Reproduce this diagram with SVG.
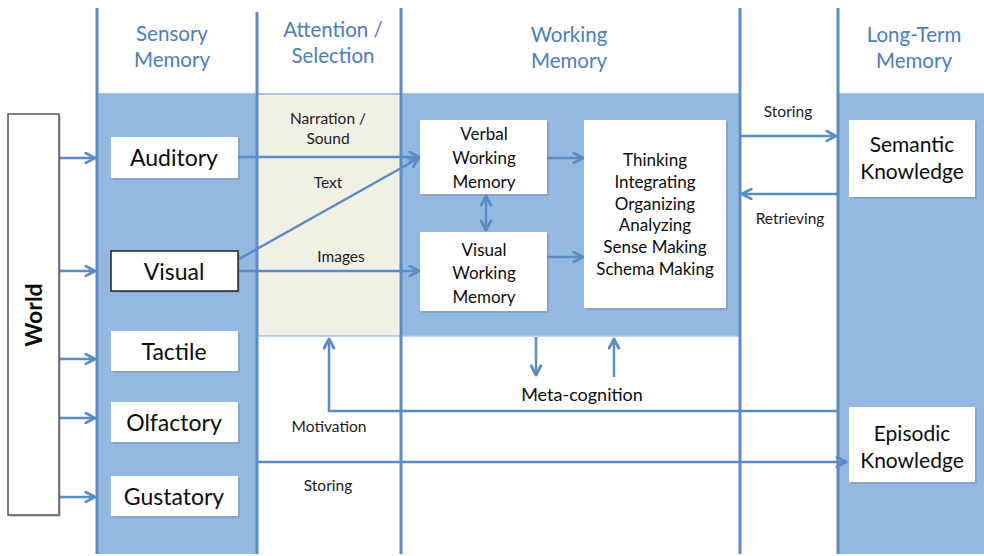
<svg xmlns="http://www.w3.org/2000/svg" width="984" height="556" viewBox="0 0 984 556">
  <style>
    .head { font-family: Lato, "Open Sans", sans-serif; font-size: 20.5px; fill: #4a7ebb; text-anchor: middle; }
    .lbl { font-family: Lato, "Open Sans", sans-serif; font-size: 15.5px; fill: #1c1c1c; text-anchor: middle; }
    .big { font-family: Lato, "Open Sans", sans-serif; font-size: 23px; fill: #0d0d0d; text-anchor: middle; }
    .ltm { font-family: Lato, "Open Sans", sans-serif; font-size: 21px; fill: #0d0d0d; text-anchor: middle; }
    .mid { font-family: Lato, "Open Sans", sans-serif; font-size: 17px; fill: #0d0d0d; text-anchor: middle; }
    .meta { font-family: Lato, "Open Sans", sans-serif; font-size: 18px; fill: #0d0d0d; text-anchor: middle; }
    .small { font-family: Lato, "Open Sans", sans-serif; font-size: 17px; fill: #0d0d0d; text-anchor: middle; }
    .world { font-family: Lato, "Open Sans", sans-serif; font-size: 23px; font-weight: bold; fill: #0d0d0d; text-anchor: middle; }
    .box { fill: #ffffff; }
    .shadow { fill: #6b7f96; opacity: 0.35; }
    .col { stroke: #5a8cc7; stroke-width: 3; fill: none; }
    .conn { stroke: #5a8cc7; stroke-width: 2.5; fill: none; }
  </style>
  <defs>
    <!-- open chevron arrowhead shared by all connectors -->
    <marker id="arr" viewBox="0 0 12 12" refX="10.5" refY="6" markerWidth="13" markerHeight="13" markerUnits="userSpaceOnUse" orient="auto-start-reverse">
      <path d="M2,1.5 L10.5,6 L2,10.5" fill="none" stroke="#5a8cc7" stroke-width="2.6" stroke-linecap="round" stroke-linejoin="round"/>
    </marker>
  </defs>

  <!-- background -->
  <rect x="0" y="0" width="984" height="556" fill="#ffffff"/>

  <!-- column fills -->
  <g id="columns">
    <rect x="97" y="94" width="160" height="460" fill="#94b9e1"/>
    <rect x="257" y="94" width="144" height="242" fill="#f1f0e4"/>
    <rect x="401" y="94" width="339" height="242" fill="#94b9e1"/>
    <rect x="838" y="94" width="146" height="460" fill="#94b9e1"/>
    <line x1="97" y1="94" x2="740" y2="94" stroke="#8fb3dc" stroke-width="1.5"/>
    <line x1="838" y1="94" x2="984" y2="94" stroke="#8fb3dc" stroke-width="1.5"/>
    <line x1="257" y1="336" x2="740" y2="336" stroke="#a9c5e6" stroke-width="1.5"/>
    <line class="col" x1="97" y1="8" x2="97" y2="554"/>
    <line class="col" x1="257" y1="12" x2="257" y2="554"/>
    <line class="col" x1="401" y1="8" x2="401" y2="554"/>
    <line class="col" x1="740" y1="8" x2="740" y2="554"/>
    <line class="col" x1="838" y1="8" x2="838" y2="554"/>
  </g>

  <!-- column headings -->
  <g id="headings">
    <text class="head" x="172" y="41">Sensory</text>
    <text class="head" x="172" y="67">Memory</text>
    <text class="head" x="333" y="37">Attention /</text>
    <text class="head" x="333" y="63">Selection</text>
    <text class="head" x="569" y="42">Working</text>
    <text class="head" x="569" y="68">Memory</text>
    <text class="head" x="914" y="42">Long-Term</text>
    <text class="head" x="914" y="68">Memory</text>
  </g>

  <!-- connectors -->
  <g id="connectors">
    <!-- world to senses -->
    <line class="conn" x1="59" y1="158" x2="95" y2="158" marker-end="url(#arr)"/>
    <line class="conn" x1="59" y1="271" x2="95" y2="271" marker-end="url(#arr)"/>
    <line class="conn" x1="59" y1="359" x2="95" y2="359" marker-end="url(#arr)"/>
    <line class="conn" x1="59" y1="418" x2="95" y2="418" marker-end="url(#arr)"/>
    <line class="conn" x1="57" y1="497" x2="95" y2="497" marker-end="url(#arr)"/>
    <!-- senses to working memory -->
    <line class="conn" x1="238" y1="157" x2="419" y2="157" marker-end="url(#arr)"/>
    <line class="conn" x1="239" y1="259" x2="419" y2="158" marker-end="url(#arr)"/>
    <line class="conn" x1="239" y1="271" x2="419" y2="271" marker-end="url(#arr)"/>
    <!-- inside working memory -->
    <line class="conn" x1="547" y1="158" x2="583" y2="158" marker-end="url(#arr)"/>
    <line class="conn" x1="547" y1="257" x2="583" y2="257" marker-end="url(#arr)"/>
    <line class="conn" x1="486" y1="196" x2="486" y2="230" marker-start="url(#arr)" marker-end="url(#arr)"/>
    <!-- long-term memory exchange -->
    <line class="conn" x1="740" y1="136" x2="836" y2="136" marker-end="url(#arr)"/>
    <line class="conn" x1="838" y1="194" x2="742" y2="194" marker-end="url(#arr)"/>
    <!-- meta-cognition -->
    <line class="conn" x1="536" y1="337" x2="536" y2="375" marker-end="url(#arr)"/>
    <line class="conn" x1="614" y1="377" x2="614" y2="339" marker-end="url(#arr)"/>
    <!-- motivation -->
    <polyline class="conn" points="838,411 329,411 329,339" marker-end="url(#arr)"/>
    <!-- storing to episodic -->
    <line class="conn" x1="257" y1="462" x2="846" y2="462" marker-end="url(#arr)"/>
  </g>

  <!-- flow labels -->
  <g id="labels">
    <text class="lbl" x="328" y="124">Narration /</text>
    <text class="lbl" x="328" y="144">Sound</text>
    <text class="lbl" x="328" y="188">Text</text>
    <text class="lbl" x="341" y="262">Images</text>
    <text class="lbl" x="788" y="117">Storing</text>
    <text class="lbl" x="790" y="224">Retrieving</text>
    <text class="lbl" x="329" y="432">Motivation</text>
    <text class="lbl" x="328" y="491">Storing</text>
    <text class="meta" x="582" y="401">Meta-cognition</text>
  </g>

  <!-- World -->
  <g id="world">
    <rect class="shadow" x="10" y="116" width="51" height="401"/>
    <rect x="8" y="114" width="51" height="401" fill="#ffffff" stroke="#555" stroke-width="1.5"/>
    <text class="world" transform="translate(42,315) rotate(-90)">World</text>
  </g>

  <!-- sensory stores -->
  <g id="auditory">
    <rect class="shadow" x="113" y="139" width="127" height="41"/>
    <rect class="box" x="111" y="137" width="127" height="41"/>
    <text class="big" x="174" y="166">Auditory</text>
  </g>
  <g id="visual">
    <rect class="shadow" x="113" y="253" width="127" height="40"/>
    <rect class="box" x="111" y="251" width="127" height="40" stroke="#222" stroke-width="1.5"/>
    <text class="big" x="174" y="280">Visual</text>
  </g>
  <g id="tactile">
    <rect class="shadow" x="113" y="333" width="127" height="40"/>
    <rect class="box" x="111" y="331" width="127" height="40"/>
    <text class="big" x="174" y="360">Tactile</text>
  </g>
  <g id="olfactory">
    <rect class="shadow" x="113" y="404" width="127" height="40"/>
    <rect class="box" x="111" y="402" width="127" height="40"/>
    <text class="big" x="174" y="431">Olfactory</text>
  </g>
  <g id="gustatory">
    <rect class="shadow" x="113" y="478" width="127" height="40"/>
    <rect class="box" x="111" y="476" width="127" height="40"/>
    <text class="big" x="174" y="505">Gustatory</text>
  </g>

  <!-- working memory -->
  <g id="verbal-wm">
    <rect class="shadow" x="422" y="122" width="127" height="74"/>
    <rect class="box" x="420" y="120" width="127" height="74"/>
    <text class="mid" x="484" y="140">Verbal</text>
    <text class="mid" x="484" y="164">Working</text>
    <text class="mid" x="484" y="188">Memory</text>
  </g>
  <g id="visual-wm">
    <rect class="shadow" x="422" y="234" width="127" height="79"/>
    <rect class="box" x="420" y="232" width="127" height="79"/>
    <text class="mid" x="484" y="256">Visual</text>
    <text class="mid" x="484" y="279">Working</text>
    <text class="mid" x="484" y="303">Memory</text>
  </g>
  <g id="processing">
    <rect class="shadow" x="586" y="122" width="142" height="188"/>
    <rect class="box" x="584" y="120" width="142" height="188"/>
    <text class="small" x="655" y="166">Thinking</text>
    <text class="small" x="655" y="188">Integrating</text>
    <text class="small" x="655" y="210">Organizing</text>
    <text class="small" x="655" y="231">Analyzing</text>
    <text class="small" x="655" y="253">Sense Making</text>
    <text class="small" x="655" y="275">Schema Making</text>
  </g>

  <!-- long-term memory -->
  <g id="semantic">
    <rect class="shadow" x="851" y="122" width="126" height="77"/>
    <rect class="box" x="849" y="120" width="126" height="77"/>
    <text class="ltm" x="912" y="152">Semantic</text>
    <text class="ltm" x="912" y="179">Knowledge</text>
  </g>
  <g id="episodic">
    <rect class="shadow" x="851" y="409" width="126" height="75"/>
    <rect class="box" x="849" y="407" width="126" height="75"/>
    <text class="ltm" x="912" y="441">Episodic</text>
    <text class="ltm" x="912" y="468">Knowledge</text>
  </g>
</svg>
